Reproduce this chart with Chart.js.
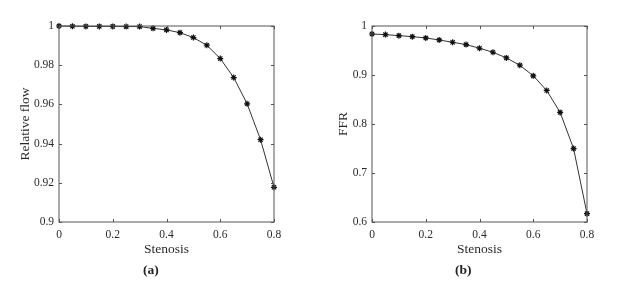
<!DOCTYPE html>
<html>
<head>
<meta charset="utf-8">
<script src="https://cdn.jsdelivr.net/npm/chart.js@4.4.1/dist/chart.umd.min.js"></script>
<style>
  body { margin: 0; background: #fff; width: 624px; height: 281px; overflow: hidden; position: relative; }
  .panel { position: absolute; top: 0; }
  .tag { position: absolute; top: 262px; font: bold 13.5px "Liberation Serif", serif; color: #222; }
</style>
</head>
<body>
<div class="panel" style="left:0;width:310px;height:265px"><canvas id="chart-a"></canvas></div>
<div class="panel" style="left:310px;width:314px;height:265px"><canvas id="chart-b"></canvas></div>
<div class="tag" style="left:143px">(a)</div>
<div class="tag" style="left:455px">(b)</div>
<script>
// Data
const stenosis = [0, 0.05, 0.1, 0.15, 0.2, 0.25, 0.3, 0.35, 0.4, 0.45, 0.5, 0.55, 0.6, 0.65, 0.7, 0.75, 0.8];
const relativeFlow = [1.0, 0.9999, 0.9998, 0.9998, 0.9998, 0.9997, 0.9997, 0.9988, 0.998, 0.9966, 0.9941, 0.9902, 0.9834, 0.9737, 0.9603, 0.942, 0.9177];
const ffr = [0.9837, 0.9824, 0.9803, 0.9783, 0.9756, 0.9715, 0.9668, 0.962, 0.9546, 0.9464, 0.9349, 0.92, 0.8983, 0.8685, 0.8237, 0.7498, 0.617];
const xTicks = [0, 0.2, 0.4, 0.6, 0.8];
const flowTicks = [0.9, 0.92, 0.94, 0.96, 0.98, 1];
const ffrTicks = [0.6, 0.7, 0.8, 0.9, 1];

const serif = '"Liberation Serif", "Times New Roman", serif';
const textColor = '#2a2a2a';
const boxColor = '#555';

// plain matlab-ish labels: 1, 0.9, 0.98
const fmt = v => String(+v.toFixed(2));

// MATLAB-style box with inward ticks on all four sides
const boxPlugin = {
    id: 'box',
    afterDraw(chart) {
        const { ctx, chartArea: a, scales } = chart;
        ctx.save();
        ctx.strokeStyle = boxColor;
        ctx.lineWidth = 1;
        ctx.strokeRect(a.left, a.top, a.right - a.left, a.bottom - a.top);
        const len = 3;
        ctx.beginPath();
        scales.x.ticks.forEach(t => {
            const px = Math.round(scales.x.getPixelForValue(t.value)) + 0.5;
            ctx.moveTo(px, a.bottom); ctx.lineTo(px, a.bottom - len);
            ctx.moveTo(px, a.top); ctx.lineTo(px, a.top + len);
        });
        scales.y.ticks.forEach(t => {
            const py = Math.round(scales.y.getPixelForValue(t.value)) + 0.5;
            ctx.moveTo(a.left, py); ctx.lineTo(a.left + len, py);
            ctx.moveTo(a.right, py); ctx.lineTo(a.right - len, py);
        });
        ctx.stroke();
        ctx.restore();
    }
};

function makeChart(id, values, yMin, yMax, yTicks, yTitle, yWidth, padRight, titlePad) {
    return new Chart(document.getElementById(id), {
        type: 'line',
        data: {
            labels: stenosis,
            datasets: [{
                data: stenosis.map((s, i) => ({ x: s, y: values[i] })),
                borderColor: '#333',
                borderWidth: 1,
                pointStyle: 'star',
                pointRadius: 3,
                pointBorderWidth: 1.2,
                pointBorderColor: '#111',
                pointBackgroundColor: '#111',
                tension: 0,
                clip: false
            }]
        },
        options: {
            responsive: true,
            maintainAspectRatio: false,
            animation: false,
            events: [],
            layout: { padding: { top: 26, right: padRight, left: 0, bottom: 0 } },
            plugins: { legend: { display: false }, tooltip: { enabled: false } },
            scales: {
                x: {
                    type: 'linear',
                    min: 0,
                    max: 0.8,
                    afterBuildTicks: s => { s.ticks = xTicks.map(v => ({ value: v })); },
                    afterFit: s => { s.height = 43; },
                    border: { display: false },
                    grid: { display: false, drawTicks: false },
                    ticks: { padding: 6, color: textColor, font: { family: serif, size: 11.5 }, maxRotation: 0, callback: fmt },
                    title: { display: true, text: 'Stenosis', color: textColor, font: { family: serif, size: 13.5 }, padding: { top: 2, bottom: 7 } }
                },
                y: {
                    type: 'linear',
                    min: yMin,
                    max: yMax,
                    afterBuildTicks: s => { s.ticks = yTicks.map(v => ({ value: v })); },
                    afterFit: s => { s.width = yWidth; },
                    border: { display: false },
                    grid: { display: false, drawTicks: false },
                    ticks: { padding: 5, color: textColor, font: { family: serif, size: 11.5 }, callback: fmt },
                    title: { display: true, text: yTitle, color: textColor, font: { family: serif, size: 13.5 }, padding: { top: titlePad, bottom: 0 } }
                }
            }
        },
        plugins: [boxPlugin]
    });
}

document.addEventListener('DOMContentLoaded', () => {
    makeChart('chart-a', relativeFlow, 0.9, 1, flowTicks, 'Relative flow', 59, 36, 17);
    makeChart('chart-b', ffr, 0.6, 1, ffrTicks, 'FFR', 62, 37, 25);
});
</script>
</body>
</html>
